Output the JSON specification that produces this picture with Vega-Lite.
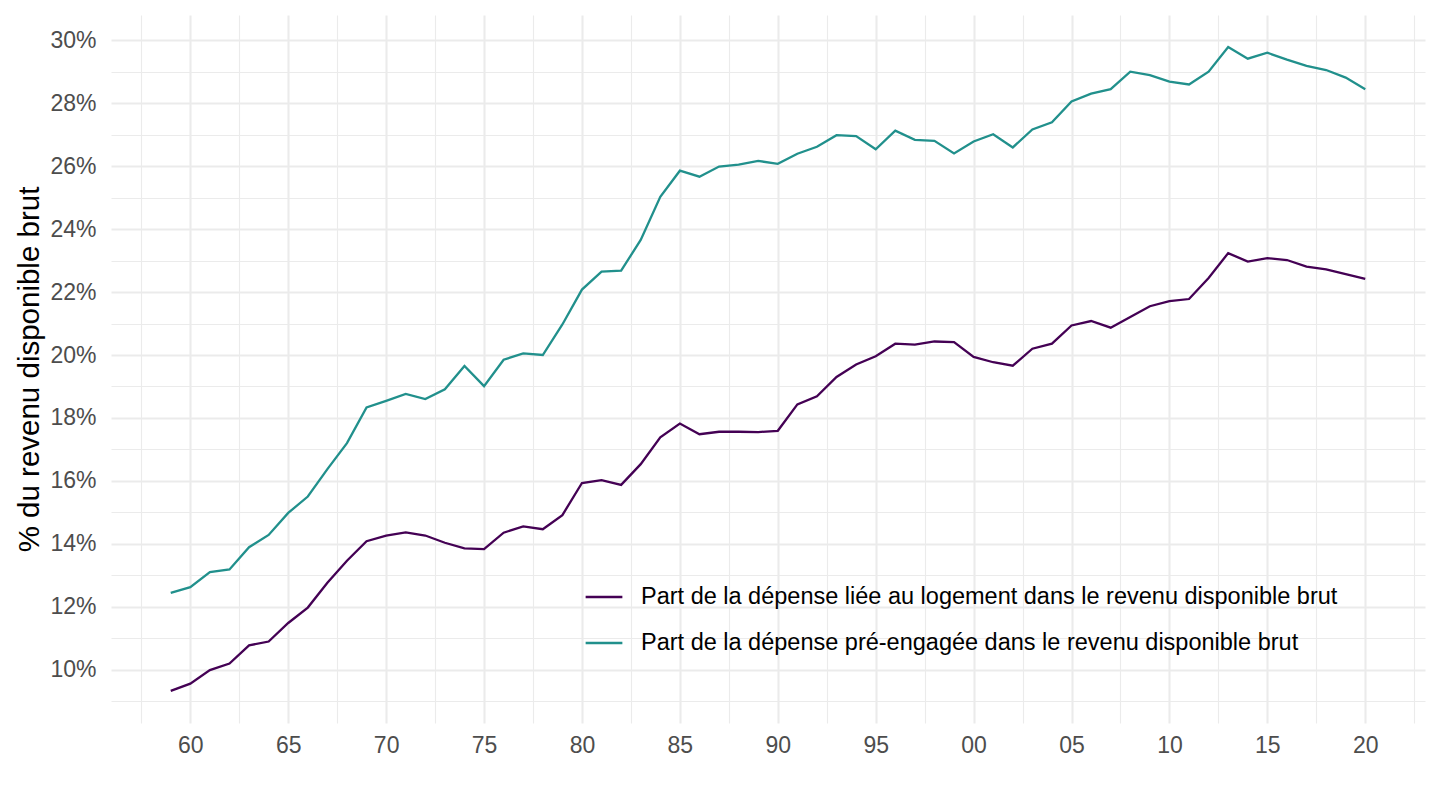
{
  "$schema": "https://vega.github.io/schema/vega-lite/v6.json",
  "width": 1314,
  "height": 708,
  "autosize": {"type": "none"},
  "padding": {"left": 111, "top": 15, "right": 15, "bottom": 87},
  "background": "white",
  "config": {
    "font": "Liberation Sans",
    "view": {"stroke": null},
    "axis": {"gridColor": "#EBEBEB", "domain": false, "ticks": false, "tickSize": 0}
  },
  "data": {
    "values": [
      {"annee": 1959, "L": 9.32, "P": 12.44},
      {"annee": 1960, "L": 9.55, "P": 12.62},
      {"annee": 1961, "L": 9.98, "P": 13.10},
      {"annee": 1962, "L": 10.19, "P": 13.18},
      {"annee": 1963, "L": 10.77, "P": 13.89},
      {"annee": 1964, "L": 10.89, "P": 14.28},
      {"annee": 1965, "L": 11.48, "P": 14.98},
      {"annee": 1966, "L": 11.97, "P": 15.50},
      {"annee": 1967, "L": 12.76, "P": 16.37},
      {"annee": 1968, "L": 13.46, "P": 17.20},
      {"annee": 1969, "L": 14.08, "P": 18.33},
      {"annee": 1970, "L": 14.26, "P": 18.54},
      {"annee": 1971, "L": 14.36, "P": 18.76},
      {"annee": 1972, "L": 14.26, "P": 18.60},
      {"annee": 1973, "L": 14.03, "P": 18.91},
      {"annee": 1974, "L": 13.85, "P": 19.65},
      {"annee": 1975, "L": 13.83, "P": 19.01},
      {"annee": 1976, "L": 14.35, "P": 19.85},
      {"annee": 1977, "L": 14.55, "P": 20.05},
      {"annee": 1978, "L": 14.46, "P": 20.00},
      {"annee": 1979, "L": 14.91, "P": 20.97},
      {"annee": 1980, "L": 15.93, "P": 22.08},
      {"annee": 1981, "L": 16.02, "P": 22.65},
      {"annee": 1982, "L": 15.87, "P": 22.68},
      {"annee": 1983, "L": 16.53, "P": 23.66},
      {"annee": 1984, "L": 17.38, "P": 25.03},
      {"annee": 1985, "L": 17.82, "P": 25.86},
      {"annee": 1986, "L": 17.48, "P": 25.67},
      {"annee": 1987, "L": 17.56, "P": 25.99},
      {"annee": 1988, "L": 17.56, "P": 26.05},
      {"annee": 1989, "L": 17.55, "P": 26.17},
      {"annee": 1990, "L": 17.59, "P": 26.08},
      {"annee": 1991, "L": 18.43, "P": 26.40},
      {"annee": 1992, "L": 18.69, "P": 26.62},
      {"annee": 1993, "L": 19.30, "P": 26.99},
      {"annee": 1994, "L": 19.70, "P": 26.96},
      {"annee": 1995, "L": 19.96, "P": 26.54},
      {"annee": 1996, "L": 20.36, "P": 27.13},
      {"annee": 1997, "L": 20.33, "P": 26.84},
      {"annee": 1998, "L": 20.43, "P": 26.81},
      {"annee": 1999, "L": 20.41, "P": 26.41},
      {"annee": 2000, "L": 19.94, "P": 26.79},
      {"annee": 2001, "L": 19.77, "P": 27.02},
      {"annee": 2002, "L": 19.66, "P": 26.60},
      {"annee": 2003, "L": 20.20, "P": 27.17},
      {"annee": 2004, "L": 20.36, "P": 27.40},
      {"annee": 2005, "L": 20.94, "P": 28.06},
      {"annee": 2006, "L": 21.08, "P": 28.31},
      {"annee": 2007, "L": 20.87, "P": 28.45},
      {"annee": 2008, "L": 21.21, "P": 29.01},
      {"annee": 2009, "L": 21.55, "P": 28.90},
      {"annee": 2010, "L": 21.71, "P": 28.69},
      {"annee": 2011, "L": 21.78, "P": 28.60},
      {"annee": 2012, "L": 22.45, "P": 29.01},
      {"annee": 2013, "L": 23.24, "P": 29.79},
      {"annee": 2014, "L": 22.97, "P": 29.42},
      {"annee": 2015, "L": 23.08, "P": 29.61},
      {"annee": 2016, "L": 23.02, "P": 29.39},
      {"annee": 2017, "L": 22.81, "P": 29.19},
      {"annee": 2018, "L": 22.72, "P": 29.06},
      {"annee": 2019, "L": 22.57, "P": 28.82},
      {"annee": 2020, "L": 22.42, "P": 28.45}
    ]
  },
  "transform": [{"fold": ["L", "P"], "as": ["serie", "valeur"]}],
  "layer": [
    {
      "mark": {"type": "line", "opacity": 0},
      "encoding": {
        "x": {
          "field": "annee", "type": "quantitative",
          "scale": {"domain": [1955.95, 2023.05], "nice": false, "zero": false},
          "axis": {"orient": "top", "values": [1957.5, 1962.5, 1967.5, 1972.5, 1977.5, 1982.5, 1987.5, 1992.5, 1997.5, 2002.5, 2007.5, 2012.5, 2017.5, 2022.5], "grid": true, "gridWidth": 1.1, "labels": false, "title": null}
        },
        "y": {
          "field": "valeur", "type": "quantitative",
          "scale": {"domain": [8.3, 30.81], "nice": false, "zero": false},
          "axis": {"orient": "right", "values": [9, 11, 13, 15, 17, 19, 21, 23, 25, 27, 29], "grid": true, "gridWidth": 1.1, "labels": false, "title": null}
        },
        "detail": {"field": "serie"}
      }
    },
    {
      "mark": {"type": "line", "strokeWidth": 2.3},
      "encoding": {
        "x": {
          "field": "annee", "type": "quantitative",
          "axis": {
            "orient": "bottom",
            "values": [1960, 1965, 1970, 1975, 1980, 1985, 1990, 1995, 2000, 2005, 2010, 2015, 2020],
            "grid": true, "gridWidth": 2.1,
            "labelExpr": "substring(toString(datum.value), 2, 4)",
            "labelFontSize": 23, "labelColor": "#4D4D4D", "labelPadding": 11,
            "title": null
          }
        },
        "y": {
          "field": "valeur", "type": "quantitative",
          "axis": {
            "orient": "left",
            "values": [10, 12, 14, 16, 18, 20, 22, 24, 26, 28, 30],
            "grid": true, "gridWidth": 2.1,
            "labelExpr": "datum.value + '%'",
            "labelFontSize": 23, "labelColor": "#4D4D4D", "labelPadding": 15,
            "title": "% du revenu disponible brut",
            "titleFontSize": 29.5, "titleFontWeight": "normal", "titleColor": "#000000",
            "titleAngle": -90, "titleX": -73, "titleY": 354, "titleAlign": "center", "titleBaseline": "alphabetic"
          }
        },
        "color": {
          "field": "serie", "type": "nominal",
          "scale": {"domain": ["L", "P"], "range": ["#440154", "#21908C"]},
          "legend": {
            "title": null,
            "orient": "none",
            "legendX": 473,
            "legendY": 562,
            "padding": 0,
            "symbolType": "stroke",
            "symbolSize": 1350,
            "symbolStrokeWidth": 2.4,
            "labelFontSize": 23.5,
            "labelColor": "#000000",
            "labelOffset": 17,
            "labelLimit": 1000,
            "rowPadding": 14,
            "labelExpr": "datum.value == 'L' ? 'Part de la dépense liée au logement dans le revenu disponible brut' : 'Part de la dépense pré-engagée dans le revenu disponible brut'"
          }
        }
      }
    }
  ],
  "resolve": {"axis": {"x": "independent", "y": "independent"}}
}
